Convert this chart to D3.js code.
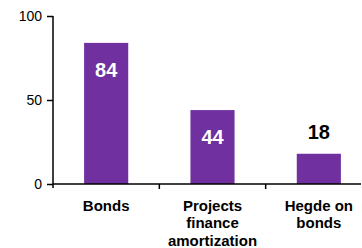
<!DOCTYPE html>
<html>
<head>
<meta charset="utf-8">
<script src="https://cdn.jsdelivr.net/npm/d3@7"></script>
<style>
  body { margin: 0; background: #fff; }
  text { font-family: "Liberation Sans", Arial, sans-serif; }
</style>
</head>
<body>
<div id="chart"></div>
<script>
// data
var categories = ["Bonds", "Projects finance amortization", "Hegde on bonds"];
var catLines = [["Bonds"], ["Projects", "finance", "amortization"], ["Hegde on", "bonds"]];
var values = [84, 44, 18];
var yTicks = [0, 50, 100];

var width = 362, height = 248;
var svg = d3.select("#chart").append("svg")
    .attr("width", width)
    .attr("height", height);

// scales
var x = d3.scaleBand()
    .domain(categories)
    .range([53, 372])
    .paddingInner(0.585)
    .paddingOuter(0.2925);

var y = d3.scaleLinear()
    .domain([0, 100])
    .range([184, 16]);

// bars
svg.selectAll("rect.bar")
    .data(values)
    .enter().append("rect")
    .attr("class", "bar")
    .attr("x", function(d, i) { return x(categories[i]); })
    .attr("y", function(d) { return y(d); })
    .attr("width", x.bandwidth())
    .attr("height", function(d) { return y(0) - y(d); })
    .style("fill", "#7030a0");

// value labels - white inside tall bars, black above short one
svg.selectAll("text.val")
    .data(values)
    .enter().append("text")
    .attr("class", "val")
    .attr("x", function(d, i) { return x(categories[i]) + x.bandwidth() / 2; })
    .attr("y", function(d) { return d > 30 ? y(d) + 34 : y(d) - 15; })
    .attr("text-anchor", "middle")
    .attr("font-size", 20)
    .attr("font-weight", "bold")
    .style("fill", function(d) { return d > 30 ? "#fff" : "#000"; })
    .text(function(d) { return d; });

// y axis
var yAxis = d3.axisLeft(y)
    .tickValues(yTicks)
    .tickSize(6)
    .tickPadding(5);

var gy = svg.append("g")
    .attr("transform", "translate(53,0)")
    .call(yAxis);
gy.select(".domain").remove();
gy.selectAll(".tick line").attr("stroke", "#000").attr("stroke-width", 1.5);
gy.selectAll(".tick text").attr("font-size", 14).attr("fill", "#000")
    .style("font-family", "'Liberation Sans', Arial, sans-serif");

svg.append("line")
    .attr("x1", 53).attr("x2", 53)
    .attr("y1", y(100)).attr("y2", y(0) + 4)
    .attr("stroke", "#000").attr("stroke-width", 1.5);

// x axis line and category separator ticks
svg.append("line")
    .attr("x1", 53).attr("x2", 361)
    .attr("y1", y(0)).attr("y2", y(0))
    .attr("stroke", "#000").attr("stroke-width", 1.5);

var step = x.step();
svg.selectAll("line.sep")
    .data(categories.slice(1))
    .enter().append("line")
    .attr("class", "sep")
    .attr("x1", function(d) { return x(d) - x.paddingInner() * step / 2; })
    .attr("x2", function(d) { return x(d) - x.paddingInner() * step / 2; })
    .attr("y1", y(0)).attr("y2", y(0) + 5)
    .attr("stroke", "#000").attr("stroke-width", 1.5);

// category labels
var labels = svg.selectAll("text.cat")
    .data(categories)
    .enter().append("text")
    .attr("class", "cat")
    .attr("text-anchor", "middle")
    .attr("font-size", 15)
    .attr("font-weight", "bold")
    .attr("x", function(d) { return x(d) + x.bandwidth() / 2; })
    .attr("y", 210.5);

labels.selectAll("tspan")
    .data(function(d, i) { return catLines[i]; })
    .enter().append("tspan")
    .attr("x", function() { var p = this.parentNode; return p.getAttribute("x"); })
    .attr("dy", function(d, i) { return i === 0 ? 0 : 17.5; })
    .text(function(d) { return d; });
</script>
</body>
</html>
